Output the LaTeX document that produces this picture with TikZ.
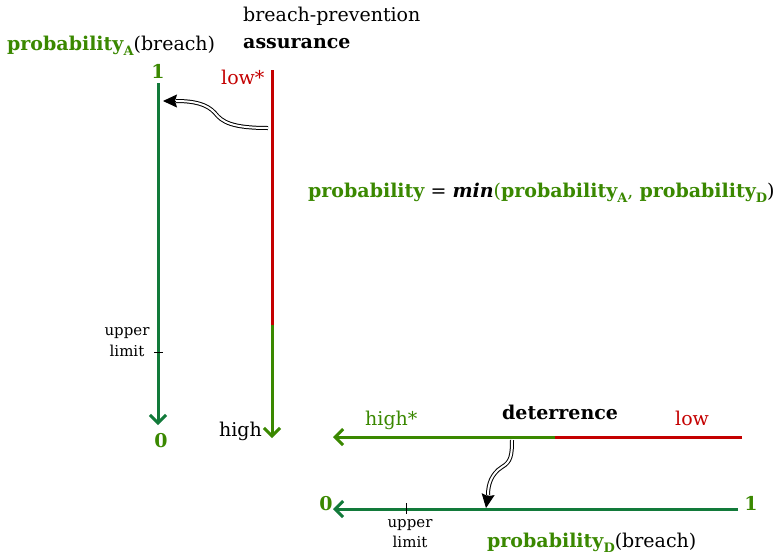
\documentclass[tikz,border=0pt]{standalone}
\usepackage{fontspec}
\setmainfont{DejaVu Serif}
\usepackage{xcolor}
\usetikzlibrary{positioning}
\usetikzlibrary{arrows.meta}

\definecolor{lineGreen}{RGB}{18,122,58}
\definecolor{textGreen}{RGB}{58,136,0}
\definecolor{darkRed}{RGB}{196,0,0}

\newcommand{\lowsub}[1]{\raisebox{-0.28em}{\fontsize{13}{13}\selectfont\bfseries #1}}

\begin{document}
\begin{tikzpicture}[x=1pt,y=-1pt,
  lab/.style={font=\fontsize{19}{22}\selectfont, inner sep=0pt, anchor=base west},
  boldlab/.style={lab, font=\fontsize{19}{22}\selectfont\bfseries},
  num/.style={font=\fontsize{19}{22}\selectfont\bfseries, text=textGreen, inner sep=0pt, anchor=base},
  small/.style={font=\fontsize{15}{18}\selectfont, inner sep=0pt, anchor=base},
  probaxis/.style={lineGreen, line width=3pt, -{Straight Barb[length=8pt,width=16pt]}},
  assaxis/.style={textGreen, line width=3pt, -{Straight Barb[length=8pt,width=16pt]}},
  redline/.style={darkRed, line width=3pt},
  tick/.style={black, line width=1pt},
  thread/.style={draw=black, double=white, double distance=2pt, line width=1pt},
  threadtip/.style={black, line width=1pt, -{Stealth[length=14pt,width=13pt,inset=2pt]}}]

\useasboundingbox (0,0) rectangle (774,555);

% labellings
{
\node[lab] (topline) at (243,21) {breach-prevention};
\node[boldlab] (assur) at (243,48) {assurance};
\node[lab] (probA) at (7,50) {{\color{textGreen}\bfseries probability\lowsub{A}}(breach)};

\node[lab] (formula) at (308,197) {{\color{textGreen}\bfseries probability} = {\bfseries\itshape min}{\color{textGreen}(\textbf{probability\lowsub{A}}, \textbf{probability\lowsub{D}}})};
}

% assurance side
{
\coordinate (aTop) at (158,83);
\coordinate (aBot) at (158,425);
\coordinate (tickA) at (158,352);

\draw[probaxis] (aTop) -- (aBot);
\draw[tick] ([xshift=-4pt]tickA) -- ([xshift=5pt]tickA);

\node[num] (oneA) at (158,78) {1};
\node[num] (zeroA) at (161,447) {0};
\node[small] (upA) at (127,335) {upper};
\node[small] (limA) at (127,356) {limit};

\coordinate (rTop) at (272,70);
\coordinate (rMid) at (272,325);
\coordinate (rBot) at (272,438);

\draw[redline] (rTop) -- (rMid);
\draw[assaxis] (rMid) -- (rBot);

\node[lab, text=darkRed] (lowA) at (221,84) {low*};
\node[lab, anchor=base east] (highA) at (262,436) {high};

\coordinate (fromLow) at (268,128);
\coordinate (baseA) at (176,101);
\coordinate (toOne) at (163,101);
\draw[thread] (fromLow) .. controls (232,128) and (222,122) .. (215,113)
  .. controls (207,104) and (194,101) .. (baseA);
\draw[threadtip] (baseA) -- (toOne);
}

% deterrence side
{
\coordinate (dRight) at (742,437);
\coordinate (dMid) at (555,437);
\coordinate (dLeft) at (333,437);

\draw[redline] (dRight) -- (dMid);
\draw[assaxis] (dMid) -- (dLeft);

\node[lab, text=textGreen] (highD) at (365,425) {high*};
\node[boldlab] (deter) at (502,419) {deterrence};
\node[lab, text=darkRed] (lowD) at (675,425) {low};

\coordinate (pRight) at (738,509);
\coordinate (pLeft) at (333,509);
\coordinate (tickD) at (406,509);

\draw[probaxis] (pRight) -- (pLeft);
\draw[tick] ([yshift=6pt]tickD) -- ([yshift=-5pt]tickD);

\node[num] (zeroD) at (326,510) {0};
\node[num] (oneD) at (751,510) {1};
\node[small] (upD) at (410,527) {upper};
\node[small] (limD) at (410,547) {limit};
\node[lab] (probD) at (487,547) {{\color{textGreen}\bfseries probability\lowsub{D}}(breach)};

\coordinate (fromDet) at (512,440);
\coordinate (baseD) at (488,495);
\coordinate (toProb) at (486,508);
\draw[thread] (fromDet) .. controls (512,455) and (511,462) .. (502,467)
  .. controls (491,474) and (488,485) .. (baseD);
\draw[threadtip] (baseD) -- (toProb);
}
\end{tikzpicture}
\end{document}
